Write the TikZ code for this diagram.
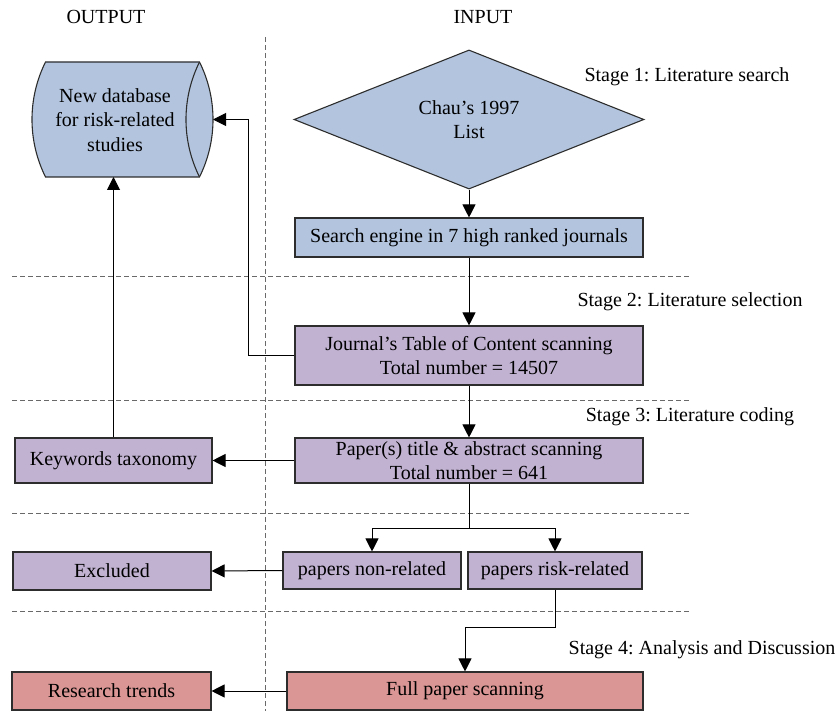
\documentclass[tikz,border=0pt]{standalone}
\usepackage{fontspec}
\setmainfont{Liberation Serif}
\usetikzlibrary{arrows.meta,shapes.geometric,calc}
\frenchspacing

\definecolor{blueFill}{RGB}{178,196,222}
\definecolor{purpleFill}{RGB}{193,178,210}
\definecolor{redFill}{RGB}{218,150,148}
\definecolor{edgeCol}{RGB}{45,45,45}
\definecolor{guideCol}{RGB}{105,105,105}

\tikzset{
  every node/.style={font=\fontsize{20}{24.5}\selectfont\frenchspacing, text=black},
  box/.style={draw=edgeCol, line width=1.1pt, align=center, inner sep=0pt},
  bluebox/.style={box, fill=blueFill},
  purplebox/.style={box, fill=purpleFill},
  redbox/.style={box, fill=redFill},
  arr/.style={draw=black, line width=1pt, -{Triangle[length=13pt,width=13pt]}},
  link/.style={draw=black, line width=1pt},
  guide/.style={draw=guideCol, line width=1pt, dash pattern=on 5pt off 3pt},
  label/.style={anchor=center}
}

\begin{document}
\begin{tikzpicture}[x=1pt,y=-1pt]
\useasboundingbox (0,0) rectangle (840,711);

% column and stage separators
\draw[guide] (265,37) -- (265,711);
\foreach \yy in {276,400,513,611}
  \draw[guide] (12,\yy) -- (690,\yy);

% column headings
\node[label] (outHead) at (106,17) {OUTPUT};
\node[label] (inHead) at (483,17) {INPUT};

% stage labels
\node[label] (st1) at (687,77) {Stage 1: Literature search};
\node[label] (st2) at (690,302) {Stage 2: Literature selection};
\node[label] (st3) at (690,417) {Stage 3: Literature coding};
\node[label] (st4) at (702,650) {Stage 4: Analysis and Discussion};

% database cylinder (shallow circular end caps)
\filldraw[fill=blueFill, draw=edgeCol, line width=1.1pt]
  (45.5,62) -- (199.5,62)
  .. controls (217.5,98.2) and (217.5,140.8) .. (199.5,177)
  -- (45.5,177)
  .. controls (27.5,140.8) and (27.5,98.2) .. (45.5,62)
  -- cycle;
\draw[draw=edgeCol, line width=1.1pt] (199.5,62)
  .. controls (181.5,98.2) and (181.5,140.8) .. (199.5,177);
\node[align=center] (db) at (115,120) {New database\\for risk-related\\studies};
\coordinate (dbE) at (213,119.5);
\coordinate (dbS) at (115,177);

% input column
\node[bluebox, shape=diamond, minimum width=350pt, minimum height=115pt]
  (chau) at (469,119.5) {Chau's 1997\\List};
\node[bluebox, minimum width=348pt, minimum height=39pt]
  (search) at (469,237.5) {Search engine in 7 high ranked journals};
\node[purplebox, minimum width=348pt, minimum height=59pt]
  (journal) at (469,355.5) {Journal's Table of Content scanning\\Total number = 14507};
\node[purplebox, minimum width=348pt, minimum height=45pt]
  (paper) at (469,460.5) {Paper(s) title \& abstract scanning\\Total number = 641};
\node[purplebox, minimum width=178pt, minimum height=37pt]
  (nonrel) at (372,570.5) {papers non-related};
\node[purplebox, minimum width=174pt, minimum height=37pt]
  (riskrel) at (555,570.5) {papers risk-related};
\node[redbox, minimum width=356pt, minimum height=38pt]
  (full) at (465,691) {Full paper scanning};

% output column
\node[purplebox, minimum width=197pt, minimum height=45pt]
  (keywords) at (113.5,460.5) {Keywords taxonomy};
\node[purplebox, minimum width=198pt, minimum height=38pt]
  (excluded) at (112,571) {Excluded};
\node[redbox, minimum width=199pt, minimum height=38pt]
  (research) at (111.5,691) {Research trends};

% connectors
\coordinate (jbend) at (248,355.5);
\coordinate (split) at (469,528);
\coordinate (rbend) at (555,627);

\draw[arr] (chau.south) -- (search.north);
\draw[arr] (search.south) -- (journal.north);
\draw[arr] (journal.south) -- (paper.north);
\draw[arr] (journal.west) -- (jbend) |- (dbE);
\draw[arr] (paper.west) -- (keywords.east);
\draw[arr] (keywords.north) -- (keywords.north |- dbS);
\draw[link] (paper.south) -- (split);
\draw[arr] (split) -| (nonrel.north);
\draw[arr] (split) -| (riskrel.north);
\draw[arr] (nonrel.west) -- (excluded.east);
\draw[arr] (riskrel.south) -- (rbend) -| (full.north);
\draw[arr] (full.west) -- (research.east);
\end{tikzpicture}
\end{document}
